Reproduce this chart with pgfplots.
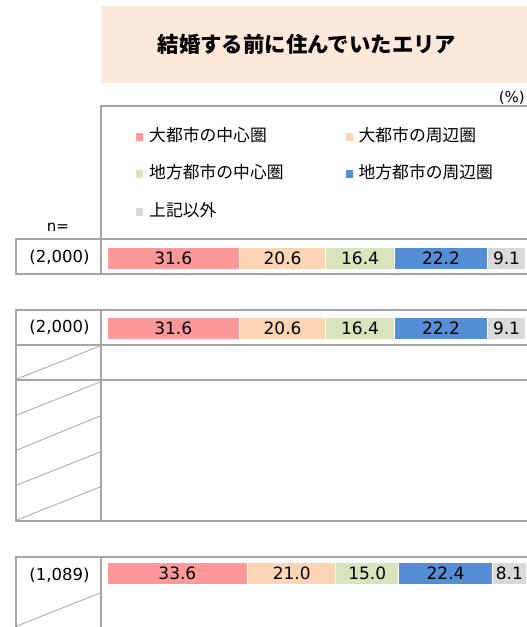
\documentclass[border=0pt]{standalone}
\usepackage{pgfplots}
\pgfplotsset{compat=1.18}
\usepackage{pgfplotstable}
\usepackage{fontspec}
\setmainfont{DejaVu Sans}
\newfontfamily\jp{Noto Sans CJK JP}
\definecolor{cA}{HTML}{FF9999}
\definecolor{cB}{HTML}{FCD5B4}
\definecolor{cC}{HTML}{D8E4BC}
\definecolor{cD}{HTML}{558ED5}
\definecolor{cE}{HTML}{D9D9D9}
\definecolor{frame}{HTML}{A6A6A6}
\definecolor{titlebg}{HTML}{FDE9DB}
\pgfplotstableread{
pos a b c d e
258 31.6 20.6 16.4 22.2 9.1
328 31.6 20.6 16.4 22.2 9.1
573 33.6 21.0 15.0 22.4 8.1
}\datatable
\begin{document}
\begin{tikzpicture}
\begin{axis}[name=px, scale only axis, width=527pt, height=627pt,
  xmin=0, xmax=527, ymin=0, ymax=627, y dir=reverse, axis lines=none, clip=false]
% title
\fill[titlebg] (axis cs:101,6) rectangle (axis cs:527,83);
\node[font=\jp\bfseries\fontsize{21.4}{21.4}\selectfont] at (axis cs:307,44) {結婚する前に住んでいたエリア};
\node[anchor=east, font=\fontsize{15}{15}\selectfont, inner sep=0pt] at (axis cs:525,98) {(\%)};
\node[font=\fontsize{15}{15}\selectfont, inner sep=0pt] at (axis cs:58,227) {n=};
% frames
\draw[frame, line width=2pt] (axis cs:527,106) -- (axis cs:101,106) -- (axis cs:101,239);
\draw[frame, line width=2pt] (axis cs:527,239) -- (axis cs:16,239) -- (axis cs:16,274) -- (axis cs:527,274);
\draw[frame, line width=2pt] (axis cs:101,239) -- (axis cs:101,274);
\draw[frame, line width=2pt] (axis cs:527,310) -- (axis cs:16,310) -- (axis cs:16,521) -- (axis cs:527,521);
\draw[frame, line width=2pt] (axis cs:101,310) -- (axis cs:101,521);
\draw[frame, line width=2pt] (axis cs:16,345) -- (axis cs:527,345);
\draw[frame, line width=2pt] (axis cs:16,380) -- (axis cs:527,380);
\draw[frame, line width=2pt] (axis cs:527,557) -- (axis cs:16,557) -- (axis cs:16,627);
\draw[frame, line width=2pt] (axis cs:101,557) -- (axis cs:101,627);
% diagonals
\draw[frame, line width=0.8pt] (axis cs:17,379) -- (axis cs:100,346);
\draw[frame, line width=0.8pt] (axis cs:17,415) -- (axis cs:100,382);
\draw[frame, line width=0.8pt] (axis cs:17,450) -- (axis cs:100,416);
\draw[frame, line width=0.8pt] (axis cs:17,485) -- (axis cs:100,452);
\draw[frame, line width=0.8pt] (axis cs:17,520) -- (axis cs:100,487);
\draw[frame, line width=0.8pt] (axis cs:17,626) -- (axis cs:100,593);
% n labels
\node[font=\fontsize{16.5}{16.5}\selectfont] at (axis cs:59.5,257) {(2,000)};
\node[font=\fontsize{16.5}{16.5}\selectfont] at (axis cs:59.5,327) {(2,000)};
\node[font=\fontsize{16.5}{16.5}\selectfont] at (axis cs:59.5,575) {(1,089)};
\end{axis}
\begin{axis}[scale only axis, width=527pt, height=627pt,
  xmin=-25.537, xmax=100.239, ymin=0, ymax=627, y dir=reverse, axis lines=none,
  xbar stacked, bar width=22,
  visualization depends on=rawx \as \rawxval,
  nodes near coords={\pgfmathprintnumber[fixed,fixed zerofill,precision=1,assume math mode=true]{\rawxval}},
  every node near coord/.append style={font=\fontsize{17}{17}\selectfont, text=black, anchor=center},
  legend style={draw=none, fill=none, at={(0.2524,0.799)}, anchor=north west,
     font=\jp\fontsize{16.8}{16.8}\selectfont,
     nodes={inner sep=0pt, text height=13pt, text depth=4pt},
     /tikz/every even column/.append style={column sep=62pt},
     /tikz/every odd column/.append style={column sep=6pt},
     row sep=20.5pt},
  legend columns=2, legend cell align=left,
  legend image code/.code={\fill[#1, draw=none] (0pt,-4pt) rectangle (7pt,4pt);},
]
\addplot[fill=cA, draw=white, line width=1pt] table[x=a, y=pos] \datatable;
\addplot[fill=cB, draw=white, line width=1pt] table[x=b, y=pos] \datatable;
\addplot[fill=cC, draw=white, line width=1pt] table[x=c, y=pos] \datatable;
\addplot[fill=cD, draw=white, line width=1pt] table[x=d, y=pos] \datatable;
\addplot[fill=cE, draw=white, line width=1pt] table[x=e, y=pos] \datatable;
\legend{大都市の中心圏, 大都市の周辺圏, 地方都市の中心圏, 地方都市の周辺圏, 上記以外}
\end{axis}
\pgfresetboundingbox
\path[use as bounding box] (px.south west) rectangle (px.north east);
\end{tikzpicture}
\end{document}
